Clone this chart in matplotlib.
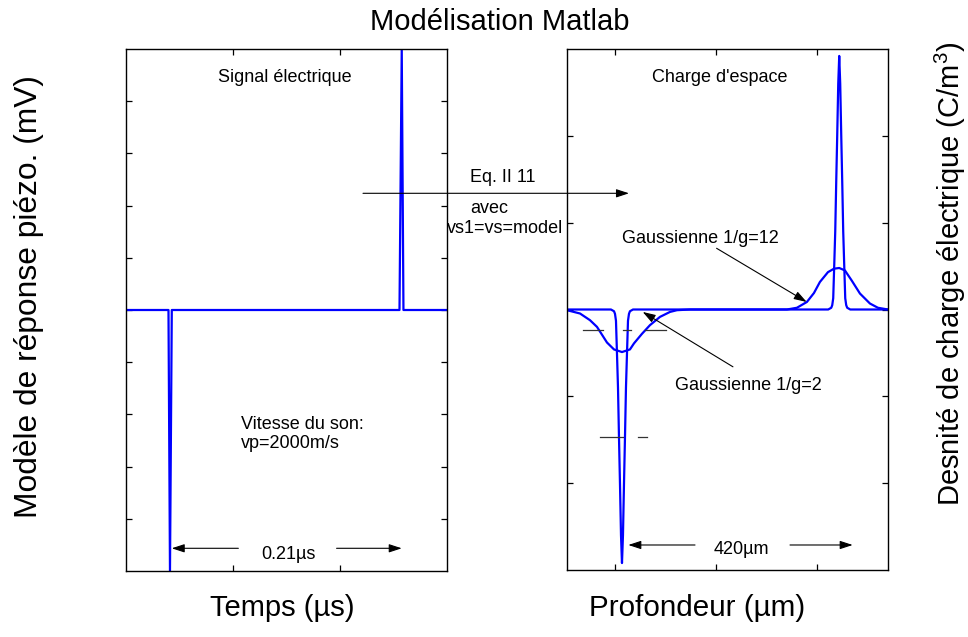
import matplotlib
matplotlib.use("Agg")
import matplotlib.pyplot as plt
from matplotlib.patches import FancyArrowPatch

plt.rcParams['font.family'] = ['Liberation Sans', 'DejaVu Sans']
plt.rcParams['mathtext.fontset'] = 'custom'
plt.rcParams['mathtext.rm'] = 'Liberation Sans'
plt.rcParams['mathtext.it'] = 'Liberation Sans:italic'

# ---- data -----------------------------------------------------------------
# piezo response (normalised), time in microseconds
signal_t = [0.0, 0.0397, 0.0411, 0.0428, 0.2556, 0.2577, 0.2593, 0.3]
signal_v = [0, 0, -1, 0, 0, 1, 0, 0]

# space charge, depth in micrometres - narrow gaussian profile
narrow_x = [0.0, 84.9, 90.8, 92.7, 94.6, 96.5, 98.5, 100.4, 102.3, 104.3, 106.2,
            108.1, 110.1, 112.0, 113.9, 115.9, 117.8, 119.7, 121.6, 127.5,
            504.5, 510.4, 512.3, 514.2, 516.1, 518.1, 520.0, 521.9, 523.9, 525.8,
            527.7, 529.7, 531.6, 533.5, 535.5, 537.4, 539.3, 541.2, 547.1, 620.0]
narrow_y = [0, 0, -0.02, -0.05, -0.13, -0.5, -0.9, -1.47, -2.0, -2.6, -2.92,
            -2.6, -2.0, -1.47, -0.9, -0.5, -0.13, -0.05, -0.02, 0,
            0, 0.02, 0.05, 0.13, 0.5, 0.9, 1.47, 2.0, 2.6, 2.92,
            2.6, 2.0, 1.47, 0.9, 0.5, 0.13, 0.05, 0.02, 0, 0]

# space charge - wide gaussian profile
wide_x = [0.0, 25.1, 44.4, 57.9, 77.2, 90.8, 106.2, 121.6, 129.4, 144.8, 160.3,
          179.6, 198.9, 212.4, 237.5,
          424.8, 444.1, 463.4, 477.0, 488.5, 504.0, 515.7, 525.8, 536.8, 550.3,
          565.8, 585.1, 600.5, 620.0]
wide_y = [-0.008, -0.046, -0.123, -0.2, -0.38, -0.46, -0.49, -0.46, -0.39, -0.28,
          -0.18, -0.085, -0.028, -0.008, 0,
          0, 0.02, 0.087, 0.19, 0.317, 0.43, 0.47, 0.478, 0.45, 0.33,
          0.184, 0.069, 0.02, 0]

# half-maximum markers on the negative peaks (depth segments, level)
fwhm_wide_segs = [(30.9, 69.5), (108.1, 123.6), (150.6, 191.2)]
fwhm_wide_level = -0.238
fwhm_narrow_segs = [(63.7, 108.1), (137.1, 154.5)]
fwhm_narrow_level = -1.464

BLUE = '#0000ff'
W, H = 968, 637

fig = plt.figure(figsize=(W / 100, H / 100), dpi=100)


def fx(px):
    return px / W


def fy(py):
    return 1 - py / H


ax1 = fig.add_axes([fx(126), fy(571), 321 / W, 522 / H])
ax2 = fig.add_axes([fx(567), fy(570), 321 / W, 521 / H])

for ax in (ax1, ax2):
    ax.tick_params(direction='in', top=True, right=True, length=4.5, width=0.9,
                   labelbottom=False, labelleft=False)
    for s in ax.spines.values():
        s.set_linewidth(1.0)

# left panel: electrical signal
ax1.plot(signal_t, signal_v, color=BLUE, lw=1.6)
ax1.set_xlim(0, 0.3)
ax1.set_ylim(-1, 1)
ax1.set_xticks([0.1, 0.2])
ax1.set_yticks([-0.8, -0.6, -0.4, -0.2, 0, 0.2, 0.4, 0.6, 0.8])

# right panel: space charge
ax2.plot(wide_x, wide_y, color=BLUE, lw=1.6)
ax2.plot(narrow_x, narrow_y, color=BLUE, lw=1.6)
ax2.set_xlim(0, 620)
ax2.set_ylim(-3, 3)
ax2.set_xticks([92.7, 287.7, 482.8])
ax2.set_yticks([-2, -1, 0, 1, 2])

for a, b in fwhm_wide_segs:
    ax2.plot([a, b], [fwhm_wide_level] * 2, color='#333333', lw=0.9)
for a, b in fwhm_narrow_segs:
    ax2.plot([a, b], [fwhm_narrow_level] * 2, color='#333333', lw=0.9)

ARROW = dict(arrowstyle='-|>,head_length=0.55,head_width=0.18', color='black',
             lw=0.8, mutation_scale=14, shrinkA=0, shrinkB=0)
FS = 13

# left panel texts
ax1.text(0.495, 0.936, 'Signal électrique', transform=ax1.transAxes,
         ha='center', va='baseline', fontsize=FS)
ax1.text(0.357, 0.2715, 'Vitesse du son:', transform=ax1.transAxes,
         ha='left', va='baseline', fontsize=FS)
ax1.text(0.357, 0.235, 'vp=2000m/s', transform=ax1.transAxes,
         ha='left', va='baseline', fontsize=FS)
ax1.text(0.506, 0.0224, '0.21µs', transform=ax1.transAxes,
         ha='center', va='baseline', fontsize=FS)
ax1.annotate('', xy=(0.1424, 0.0435), xytext=(0.35, 0.0435),
             xycoords='axes fraction', arrowprops=ARROW)
ax1.annotate('', xy=(0.859, 0.0435), xytext=(0.656, 0.0435),
             xycoords='axes fraction', arrowprops=ARROW)

# right panel texts
ax2.text(0.4766, 0.937, "Charge d'espace", transform=ax2.transAxes,
         ha='center', va='baseline', fontsize=FS)
ax2.text(0.414, 0.628, 'Gaussienne 1/g=12', transform=ax2.transAxes,
         ha='center', va='baseline', fontsize=FS)
ax2.annotate('', xy=(462.9, 0.087), xycoords='data',
             xytext=(0.466, 0.6175), textcoords='axes fraction', arrowprops=ARROW)
ax2.text(0.565, 0.3455, 'Gaussienne 1/g=2', transform=ax2.transAxes,
         ha='center', va='baseline', fontsize=FS)
ax2.annotate('', xy=(146.2, -0.028), xycoords='data',
             xytext=(0.517, 0.390), textcoords='axes fraction', arrowprops=ARROW)
ax2.text(0.544, 0.0307, '420µm', transform=ax2.transAxes,
         ha='center', va='baseline', fontsize=FS)
ax2.annotate('', xy=(0.191, 0.048), xytext=(0.3988, 0.048),
             xycoords='axes fraction', arrowprops=ARROW)
ax2.annotate('', xy=(0.890, 0.048), xytext=(0.6947, 0.048),
             xycoords='axes fraction', arrowprops=ARROW)

# transfer arrow between the panels
eq_arrow = FancyArrowPatch((fx(363), fy(193.3)), (fx(629), fy(193.3)),
                           transform=fig.transFigure, zorder=5, **ARROW)
fig.add_artist(eq_arrow)
fig.text(fx(470), fy(181.7), 'Eq. II 11', ha='left', va='baseline', fontsize=FS, zorder=6)
fig.text(fx(470), fy(212.7), 'avec', ha='left', va='baseline', fontsize=FS, zorder=6)
fig.text(fx(447), fy(233.3), 'vs1=vs=model', ha='left', va='baseline', fontsize=FS, zorder=6)

# titles and axis labels
fig.text(fx(500), fy(22), 'Modélisation Matlab', ha='center', va='center', fontsize=21)
fig.text(fx(282), fy(608), 'Temps (µs)', ha='center', va='center', fontsize=21)
fig.text(fx(697), fy(608), 'Profondeur (µm)', ha='center', va='center', fontsize=21.3)
fig.text(fx(29), fy(296.5), 'Modèle de réponse piézo. (mV)', rotation=90,
         ha='center', va='center', fontsize=22.9)
fig.text(fx(950), fy(274), r'Desnité de charge électrique (C/m$^3$)', rotation=90,
         ha='center', va='center', fontsize=21)

fig.savefig('out.png', dpi=100, facecolor='white')
